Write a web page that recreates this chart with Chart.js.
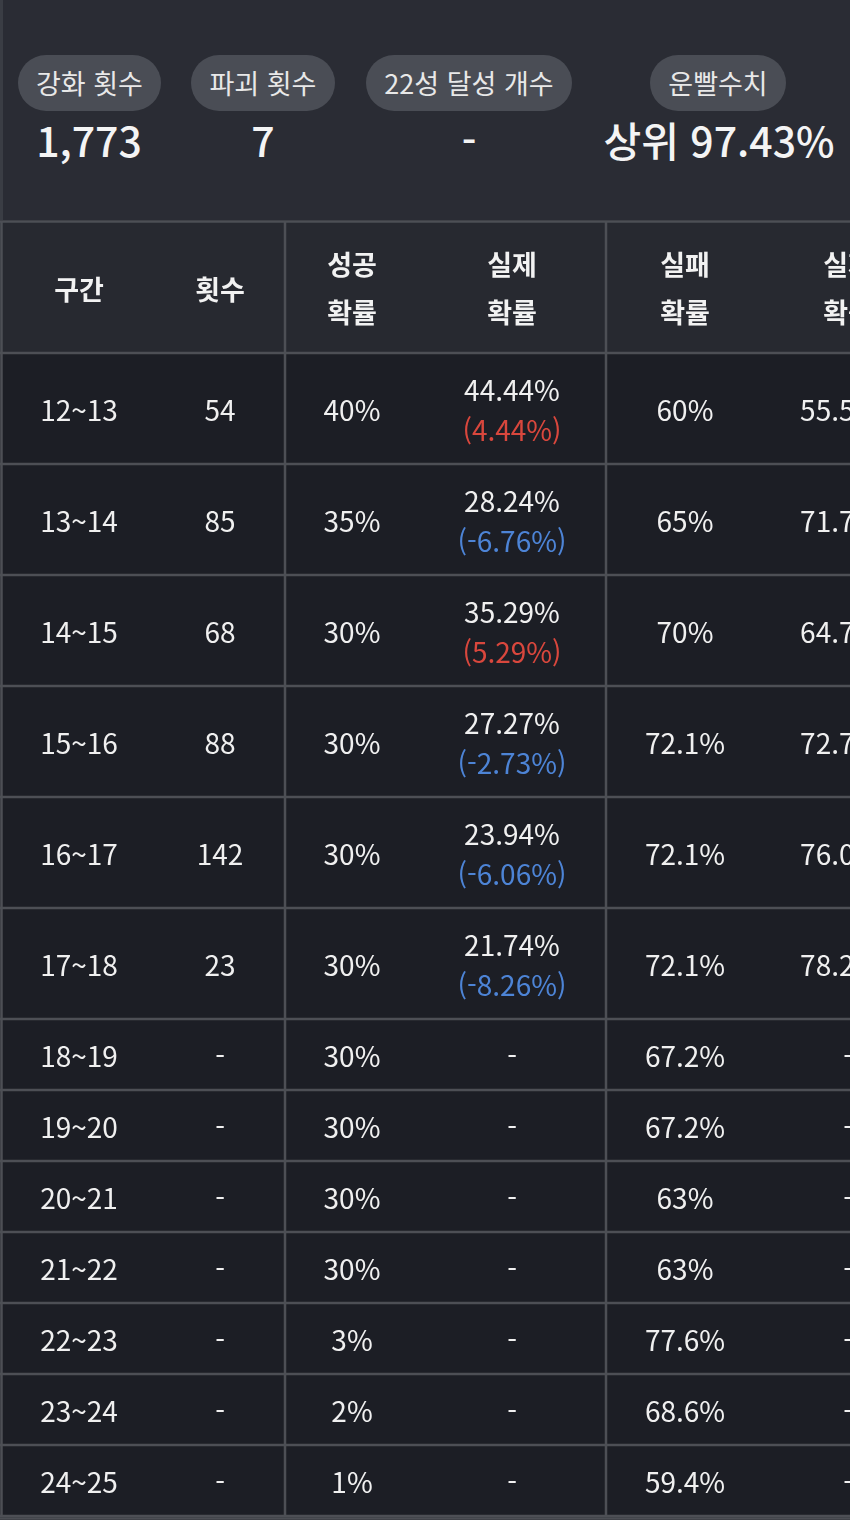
<!DOCTYPE html>
<html lang="ko">
<head>
<meta charset="utf-8">
<script src="https://cdn.jsdelivr.net/npm/chart.js@4/dist/chart.umd.min.js"></script>
<style>
  html, body { margin:0; padding:0; background:#1c1e25; width:850px; height:1520px; overflow:hidden; }
  body { position:relative; font-family:"Noto Sans CJK KR","Noto Sans",sans-serif; }
  #topStats { position:absolute; left:0; top:0; width:850px; height:220px; background:#2a2c34; z-index:2; box-sizing:border-box; border-left:3px solid #3a3d44; }
  .pill { position:absolute; top:55px; height:56px; line-height:56px; border-radius:28px; background:#4a4d55; color:#e8e8e8; font-size:27px; text-align:center; white-space:nowrap; }
  .val { position:absolute; top:112px; height:54px; line-height:54px; color:#f4f4f4; font-size:41px; font-weight:500; text-align:center; white-space:nowrap; }
  #chart { position:absolute; left:0; top:0; z-index:1; }
</style>
</head>
<body>
<div id="topStats"></div>
<canvas id="chart" width="850" height="1520"></canvas>
<script>
// ---- data ----
const statLabels = ['강화 횟수', '파괴 횟수', '22성 달성 개수', '운빨수치'];
const statValues = ['1,773', '7', '-', '상위 97.43%'];
const headerLabels = [['구간'], ['횟수'], ['성공', '확률'], ['실제', '확률'], ['실패', '확률'], ['실제', '확률']];
const sections = ['12~13','13~14','14~15','15~16','16~17','17~18','18~19','19~20','20~21','21~22','22~23','23~24','24~25'];
const attempts = [54, 85, 68, 88, 142, 23, null, null, null, null, null, null, null];
const successRate = [40, 35, 30, 30, 30, 30, 30, 30, 30, 30, 3, 2, 1];
const actualSuccess = [44.44, 28.24, 35.29, 27.27, 23.94, 21.74, null, null, null, null, null, null, null];
const successDiff = [4.44, -6.76, 5.29, -2.73, -6.06, -8.26, null, null, null, null, null, null, null];
const failRate = [60, 65, 70, 72.1, 72.1, 72.1, 67.2, 67.2, 63, 63, 77.6, 68.6, 59.4];
const actualFail = [55.56, 71.76, 64.71, 72.73, 76.06, 78.26, null, null, null, null, null, null, null];

// ---- layout (styles, not data) ----
const pillBoxes = [[15, 143], [188, 144], [363, 206], [647, 136]];
const valueCenters = [86, 260, 466, 716];
const colCenters = [79, 220, 352, 512, 685, 848];
const groupDividers = [285, 606];
const tableTop = 221.5;
const headerHeight = 131.5;
const tallRow = 111;
const shortRow = 71;

// top stats (HTML text)
const statsBox = document.getElementById('topStats');
statLabels.forEach((t, i) => {
  const p = document.createElement('div');
  p.className = 'pill';
  p.style.left = pillBoxes[i][0] + 'px';
  p.style.width = pillBoxes[i][1] + 'px';
  p.textContent = t;
  statsBox.appendChild(p);
  const v = document.createElement('div');
  v.className = 'val';
  v.style.left = (valueCenters[i] - 150) + 'px';
  v.style.width = '300px';
  v.textContent = statValues[i];
  statsBox.appendChild(v);
});

const fmt = v => (v === null || v === undefined) ? '-' : v + '%';

// row boundaries in scale units
const bounds = [tableTop, tableTop + headerHeight];
sections.forEach((s, i) => {
  const h = actualSuccess[i] !== null ? tallRow : shortRow;
  bounds.push(bounds[bounds.length - 1] + h);
});

const tablePlugin = {
  id: 'table',
  afterDraw(chart) {
    const ctx = chart.ctx;
    const xs = chart.scales.x, ys = chart.scales.y;
    const X = v => xs.getPixelForValue(v);
    const Y = v => ys.getPixelForValue(v);
    ctx.save();
    ctx.fillStyle = '#272930';
    ctx.fillRect(X(0), Y(bounds[0]), X(850) - X(0), Y(bounds[1]) - Y(bounds[0]));
    ctx.fillStyle = '#1c1e25';
    ctx.fillRect(X(0), Y(bounds[1]), X(850) - X(0), Y(bounds[bounds.length - 1]) - Y(bounds[1]));
    ctx.strokeStyle = '#4d4f55';
    ctx.lineWidth = 2.5;
    bounds.forEach(b => {
      ctx.beginPath(); ctx.moveTo(X(0), Y(b)); ctx.lineTo(X(850), Y(b)); ctx.stroke();
    });
    groupDividers.concat([1.5]).forEach(d => {
      ctx.beginPath(); ctx.moveTo(X(d), Y(bounds[0])); ctx.lineTo(X(d), Y(bounds[bounds.length - 1])); ctx.stroke();
    });
    ctx.beginPath(); ctx.moveTo(X(0), Y(1518.5)); ctx.lineTo(X(850), Y(1518.5)); ctx.stroke();

    ctx.textAlign = 'center';
    ctx.textBaseline = 'middle';
    ctx.fillStyle = '#f2f2f2';
    ctx.font = 'bold 27px "Noto Sans CJK KR"';
    const hMid = (Y(bounds[0]) + Y(bounds[1])) / 2 + 1;
    headerLabels.forEach((lines, j) => {
      const x = X(colCenters[j]);
      if (lines.length === 1) ctx.fillText(lines[0], x, hMid + 1);
      else { ctx.fillText(lines[0], x, hMid - 24); ctx.fillText(lines[1], x, hMid + 24); }
    });
    ctx.font = '28px "Noto Sans CJK KR"';
    sections.forEach((s, i) => {
      const mid = (Y(bounds[i + 1]) + Y(bounds[i + 2])) / 2 + 2;
      ctx.fillStyle = '#f0f0f0';
      ctx.fillText(s, X(colCenters[0]), mid);
      ctx.fillText(attempts[i] === null ? '-' : String(attempts[i]), X(colCenters[1]), mid);
      ctx.fillText(fmt(successRate[i]), X(colCenters[2]), mid);
      if (actualSuccess[i] !== null) {
        ctx.fillText(actualSuccess[i].toFixed(2) + '%', X(colCenters[3]), mid - 20);
        const d = successDiff[i];
        ctx.fillStyle = d >= 0 ? '#d9473d' : '#4d84d6';
        ctx.fillText('(' + d.toFixed(2) + '%)', X(colCenters[3]), mid + 20);
        ctx.fillStyle = '#f0f0f0';
      } else {
        ctx.fillText('-', X(colCenters[3]), mid);
      }
      ctx.fillText(fmt(failRate[i]), X(colCenters[4]), mid);
      ctx.fillText(actualFail[i] === null ? '-' : actualFail[i].toFixed(2) + '%', X(colCenters[5]), mid);
    });
    ctx.restore();
  }
};

new Chart(document.getElementById('chart'), {
  type: 'scatter',
  data: { datasets: [{ data: [] }] },
  options: {
    responsive: false,
    animation: false,
    devicePixelRatio: 1,
    layout: { padding: 0 },
    plugins: { legend: { display: false }, tooltip: { enabled: false } },
    scales: {
      x: { type: 'linear', min: 0, max: 850, display: false },
      y: { type: 'linear', min: 0, max: 1520, reverse: true, display: false }
    }
  },
  plugins: [tablePlugin]
});
</script>
</body>
</html>
